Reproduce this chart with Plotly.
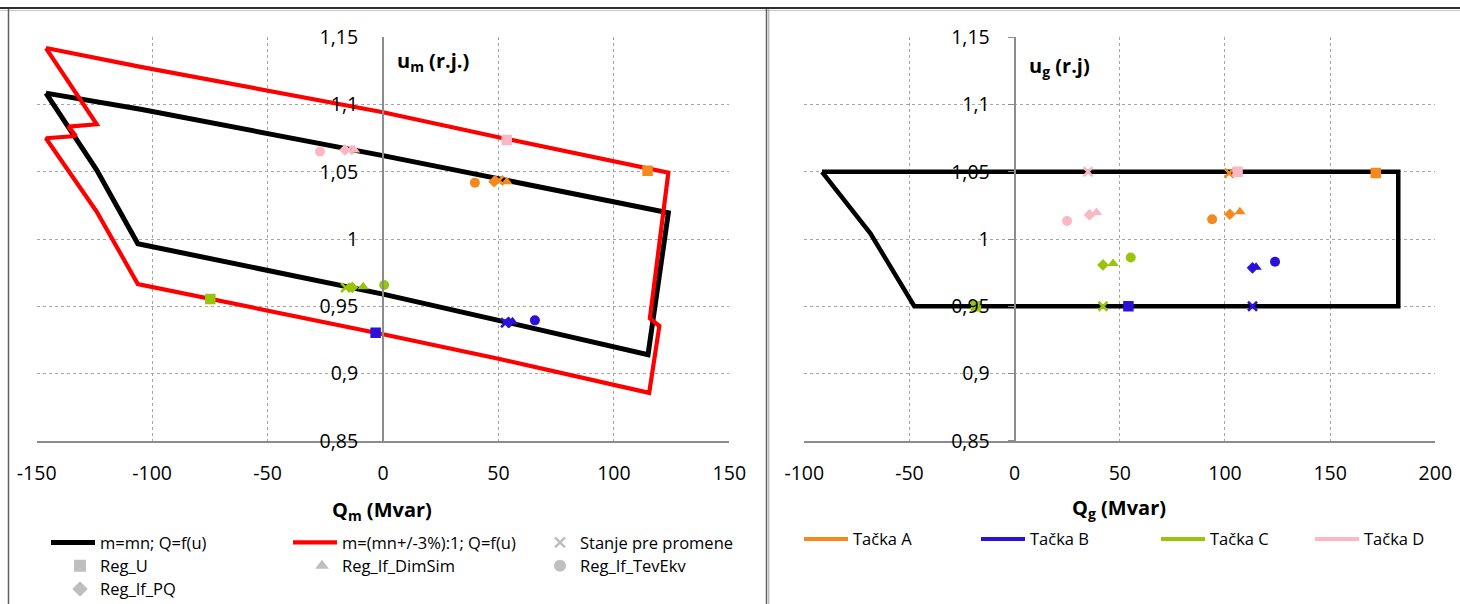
import plotly.graph_objects as go

W, H = 1460, 604

# ---------------- data: left chart (Q_m [Mvar], u_m [r.j.]) ----------------
black_m_q = [-146, -124, -106.2, 0, 50, 114.8, 123.6, 97, 50, 0, -105, -146]
black_m_u = [1.1085, 1.0513, 0.9965, 0.959, 0.9395, 0.914, 1.0195, 1.0287, 1.0452, 1.062, 1.0965, 1.1085]
red_m_q = [-146, -105, 0, 50, 123.6, 115.6, 119.7, 115.3, 50, 0, -106.2, -124, -146, -133, -136.3, -124, -146]
red_m_u = [1.142, 1.128, 1.0943, 1.0757, 1.0494, 0.941, 0.9353, 0.8856, 0.911, 0.9292, 0.9665,
           1.0203, 1.0749, 1.0766, 1.0836, 1.0853, 1.142]

# point order: A, B, C, D
stanje_q_m = [50.2, 53.1, -16.2, -15.0]
stanje_u_m = [1.0435, 0.9377, 0.9638, 1.0662]
regu_q_m = [114.6, -3.2, -74.8, 53.6]
regu_u_m = [1.0508, 0.9303, 0.9554, 1.0737]
dimsim_q_m = [53.6, 56.1, -8.6, -12.4]
dimsim_u_m = [1.0426, 0.9385, 0.9645, 1.0662]
tevekv_q_m = [39.8, 65.8, 0.5, -27.3]
tevekv_u_m = [1.0419, 0.9395, 0.9658, 1.065]
pq_q_m = [48.1, 54.3, -13.3, -16.5]
pq_u_m = [1.0426, 0.938, 0.964, 1.0662]

# ---------------- data: right chart (Q_g [Mvar], u_g [r.j]) ----------------
black_g_q = [-91.6, -68.6, -47.7, 182.4, 182.4, -91.6]
black_g_u = [1.05, 1.0042, 0.95, 0.95, 1.05, 1.05]

stanje_q_g = [102.0, 113.1, 42.0, 34.9]
stanje_u_g = [1.049, 0.95, 0.95, 1.05]
regu_q_g = [171.7, 54.1, -18.4, 106.0]
regu_u_g = [1.049, 0.95, 0.95, 1.05]
dimsim_q_g = [107.1, 114.8, 46.8, 38.9]
dimsim_u_g = [1.0203, 0.979, 0.9818, 1.0198]
tevekv_q_g = [93.9, 123.8, 55.2, 24.9]
tevekv_u_g = [1.0147, 0.9831, 0.9863, 1.0134]
pq_q_g = [102.3, 113.1, 42.0, 35.6]
pq_u_g = [1.0184, 0.9786, 0.9807, 1.0179]

point_names = ["Tačka A", "Tačka B", "Tačka C", "Tačka D"]

# ---------------- ticks ----------------
y_tick_vals = [0.85, 0.9, 0.95, 1.0, 1.05, 1.1, 1.15]
y_tick_text = ["0,85", "0,9", "0,95", "1", "1,05", "1,1", "1,15"]
xm_tick_vals = [-150, -100, -50, 0, 50, 100, 150]
xm_tick_text = ["-150", "-100", "-50", "0", "50", "100", "150"]
xg_tick_vals = [-100, -50, 0, 50, 100, 150, 200]
xg_tick_text = ["-100", "-50", "0", "50", "100", "150", "200"]

# ---------------- styles ----------------
point_colors = ["#F5891E", "#2B12DA", "#99C40C", "#FBB8C4"]
legend_gray = "#BFBFBF"
FONT = "Open Sans"
grid_col = "#A6A6A6"
axis_col = "#8C8C8C"

fig = go.Figure()

# polygons
fig.add_trace(go.Scatter(x=black_m_q, y=black_m_u, mode="lines", name="m=mn; Q=f(u)",
                         line=dict(color="black", width=5), xaxis="x", yaxis="y",
                         legend="legend", hoverinfo="skip"))
fig.add_trace(go.Scatter(x=red_m_q, y=red_m_u, mode="lines", name="m=(mn+/-3%):1; Q=f(u)",
                         line=dict(color="#FF0000", width=4.2), xaxis="x", yaxis="y",
                         legend="legend2", hoverinfo="skip"))
fig.add_trace(go.Scatter(x=black_g_q, y=black_g_u, mode="lines", showlegend=False,
                         line=dict(color="black", width=4.5), xaxis="x2", yaxis="y2",
                         hoverinfo="skip"))

marker_sets = [
    ("x-thin", 9, stanje_q_m, stanje_u_m, stanje_q_g, stanje_u_g),
    ("square", 10.5, regu_q_m, regu_u_m, regu_q_g, regu_u_g),
    ("triangle-up", 10, dimsim_q_m, dimsim_u_m, dimsim_q_g, dimsim_u_g),
    ("circle", 10, tevekv_q_m, tevekv_u_m, tevekv_q_g, tevekv_u_g),
    ("diamond", 9, pq_q_m, pq_u_m, pq_q_g, pq_u_g),
]
for sym, size, qm, um, qg, ug in marker_sets:
    if sym == "x-thin":
        mk = dict(symbol=sym, size=size, line=dict(width=2.6, color=point_colors))
    else:
        mk = dict(symbol=sym, size=size, color=point_colors, line=dict(width=0))
    fig.add_trace(go.Scatter(x=qm, y=um, mode="markers", marker=mk, showlegend=False,
                             xaxis="x", yaxis="y"))
    fig.add_trace(go.Scatter(x=qg, y=ug, mode="markers", marker=mk, showlegend=False,
                             xaxis="x2", yaxis="y2"))

# legend-only entries (gray symbols)
legend_syms = [
    ("Stanje pre promene", "x-thin", "legend3"),
    ("Reg_U", "square", "legend4"),
    ("Reg_If_DimSim", "triangle-up", "legend5"),
    ("Reg_If_TevEkv", "circle", "legend6"),
    ("Reg_If_PQ", "diamond", "legend7"),
]
for name, sym, lg in legend_syms:
    if sym == "x-thin":
        mk = dict(symbol=sym, size=10, line=dict(width=2.6, color=legend_gray))
    else:
        mk = dict(symbol=sym, size=12, color=legend_gray)
    fig.add_trace(go.Scatter(x=[None], y=[None], mode="markers", name=name, marker=mk,
                             legend=lg, xaxis="x", yaxis="y"))

for i, name in enumerate(point_names):
    fig.add_trace(go.Scatter(x=[None], y=[None], mode="lines", name=name,
                             line=dict(color=point_colors[i], width=4),
                             legend="legend%d" % (8 + i), xaxis="x2", yaxis="y2"))

# ---------------- layout geometry (pixels) ----------------
L_x0, L_x1 = 36.7, 729.3
R_x0, R_x1 = 804.3, 1435.3
P_top, P_bot = 37.3, 440.7
ydom = [(H - P_bot) / H, (H - P_top) / H]


def zero_pos(x0, x1, lo, hi):
    return (x0 + (0 - lo) / (hi - lo) * (x1 - x0)) / W


tickfont = dict(family=FONT, size=19.5, color="black")
common_x = dict(showgrid=True, gridcolor=grid_col, griddash="dot", gridwidth=1,
                showline=True, linecolor=axis_col, linewidth=2, zeroline=False,
                ticks="", tickfont=tickfont, ticklabelstandoff=14, fixedrange=True)
common_y = dict(showgrid=True, gridcolor=grid_col, griddash="dot", gridwidth=1,
                showline=True, linecolor=axis_col, linewidth=2, zeroline=False,
                tickfont=tickfont, range=[0.85, 1.15], tickvals=y_tick_vals,
                ticktext=y_tick_text, domain=ydom, anchor="free", fixedrange=True)

layout = dict(
    width=W, height=H,
    margin=dict(l=0, r=0, t=0, b=0, autoexpand=False),
    paper_bgcolor="white", plot_bgcolor="white",
    showlegend=True,
    xaxis=dict(common_x, domain=[L_x0 / W, L_x1 / W], range=[-150, 150],
               tickvals=xm_tick_vals, ticktext=xm_tick_text, anchor="y"),
    yaxis=dict(common_y, position=zero_pos(L_x0, L_x1, -150, 150), ticks="",
               ticklabelstandoff=20),
    xaxis2=dict(common_x, domain=[R_x0 / W, R_x1 / W], range=[-100, 200],
                tickvals=xg_tick_vals, ticktext=xg_tick_text, anchor="y2"),
    yaxis2=dict(common_y, position=zero_pos(R_x0, R_x1, -100, 200), ticks="outside",
                ticklen=6, tickcolor=axis_col, ticklabelstandoff=14),
)

# legends: one per entry to reproduce the Excel legend grid
leg_font = dict(family=FONT, size=16.5, color="black")
legend_pos = {
    "legend": (100, 542.7, 44), "legend2": (342, 542.7, 44), "legend3": (580, 542.7, 30),
    "legend4": (100, 566, 30), "legend5": (342, 566, 30), "legend6": (580, 566, 30),
    "legend7": (100, 589.3, 30),
    "legend8": (853, 539.3, 44), "legend9": (1030, 539.3, 44),
    "legend10": (1210, 539.3, 44), "legend11": (1364, 539.3, 44),
}
for lg, (tx, ty, iw) in legend_pos.items():
    layout[lg] = dict(x=(tx - iw - 10) / W, y=(H - ty) / H, xanchor="left", yanchor="middle",
                      orientation="v", bgcolor="rgba(0,0,0,0)", borderwidth=0,
                      font=leg_font, itemwidth=iw, itemclick=False, itemdoubleclick=False)

fig.update_layout(**layout)

# axis titles
ann_font = dict(family=FONT, size=20, color="black")
fig.add_annotation(x=395 / W, y=(H - 62) / H, xref="paper", yref="paper", showarrow=False,
                   xanchor="left", yanchor="middle", text="<b>u<sub>m</sub> (r.j.)</b>", font=ann_font)
fig.add_annotation(x=1027 / W, y=(H - 66) / H, xref="paper", yref="paper", showarrow=False,
                   xanchor="left", yanchor="middle", text="<b>u<sub>g</sub> (r.j)</b>", font=ann_font)
fig.add_annotation(x=382 / W, y=(H - 510) / H, xref="paper", yref="paper", showarrow=False,
                   xanchor="center", yanchor="middle", text="<b>Q<sub>m</sub> (Mvar)</b>", font=ann_font)
fig.add_annotation(x=1119 / W, y=(H - 508) / H, xref="paper", yref="paper", showarrow=False,
                   xanchor="center", yanchor="middle", text="<b>Q<sub>g</sub> (Mvar)</b>", font=ann_font)

# chart-area frames
def pline(x0, y0, x1, y1, color, width):
    fig.add_shape(type="line", xref="paper", yref="paper", x0=x0 / W, x1=x1 / W,
                  y0=(H - y0) / H, y1=(H - y1) / H, line=dict(color=color, width=width))

pline(0, 8, W, 8, "#303030", 2)
pline(0, 10.5, W, 10.5, "#C8C8C8", 1)
pline(8.5, 9, 8.5, H, "#606060", 1.5)
pline(766.5, 9, 766.5, H, "#606060", 1.5)
pline(768.8, 9, 768.8, H, "#A0A0A0", 1)

fig.write_html("out.html")
